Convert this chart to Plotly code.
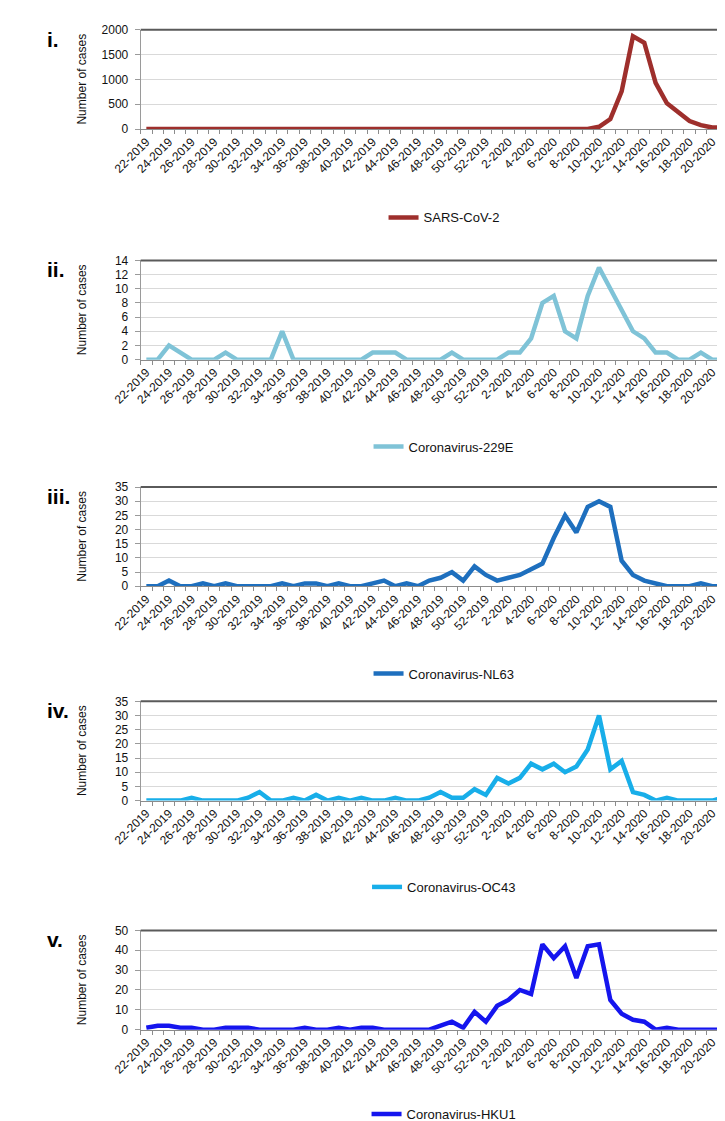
import plotly.graph_objects as go

W, H = 725, 1121

weeks = [
    "22-2019", "23-2019", "24-2019", "25-2019", "26-2019", "27-2019", "28-2019",
    "29-2019", "30-2019", "31-2019", "32-2019", "33-2019", "34-2019", "35-2019",
    "36-2019", "37-2019", "38-2019", "39-2019", "40-2019", "41-2019", "42-2019",
    "43-2019", "44-2019", "45-2019", "46-2019", "47-2019", "48-2019", "49-2019",
    "50-2019", "51-2019", "52-2019", "1-2020", "2-2020", "3-2020", "4-2020",
    "5-2020", "6-2020", "7-2020", "8-2020", "9-2020", "10-2020", "11-2020",
    "12-2020", "13-2020", "14-2020", "15-2020", "16-2020", "17-2020", "18-2020",
    "19-2020", "20-2020", "21-2020",
]

sars_cov_2 = [0, 0, 0, 0, 0, 0, 0, 0, 0, 0,
              0, 0, 0, 0, 0, 0, 0, 0, 0, 0,
              0, 0, 0, 0, 0, 0, 0, 0, 0, 0,
              0, 0, 0, 0, 0, 0, 0, 0, 0, 3,
              45, 200, 760, 1870, 1740, 930, 520, 350, 160, 80,
              30, 30]

cov_229e = [0, 0, 2, 1, 0, 0, 0, 1, 0, 0,
            0, 0, 4, 0, 0, 0, 0, 0, 0, 0,
            1, 1, 1, 0, 0, 0, 0, 1, 0, 0,
            0, 0, 1, 1, 3, 8, 9, 4, 3, 9,
            13, 10, 7, 4, 3, 1, 1, 0, 0, 1,
            0, 0]

cov_nl63 = [0, 0, 2, 0, 0, 1, 0, 1, 0, 0,
            0, 0, 1, 0, 1, 1, 0, 1, 0, 0,
            1, 2, 0, 1, 0, 2, 3, 5, 2, 7,
            4, 2, 3, 4, 6, 8, 17, 25, 19, 28,
            30, 28, 9, 4, 2, 1, 0, 0, 0, 1,
            0, 0]

cov_oc43 = [0, 0, 0, 0, 1, 0, 0, 0, 0, 1,
            3, 0, 0, 1, 0, 2, 0, 1, 0, 1,
            0, 0, 1, 0, 0, 1, 3, 1, 1, 4,
            2, 8, 6, 8, 13, 11, 13, 10, 12, 18,
            30, 11, 14, 3, 2, 0, 1, 0, 0, 0,
            0, 1]

cov_hku1 = [1, 2, 2, 1, 1, 0, 0, 1, 1, 1,
            0, 0, 0, 0, 1, 0, 0, 1, 0, 1,
            1, 0, 0, 0, 0, 0, 2, 4, 1, 9,
            4, 12, 15, 20, 18, 43, 36, 42, 26, 42,
            43, 15, 8, 5, 4, 0, 1, 0, 0, 0,
            0, 0]

panels = [
    # label, name, values, colour, ymax, dtick, plot top px, legend y px
    ("i.", "SARS-CoV-2", sars_cov_2, "#9e2f2c", 2000, 500, 15, 205),
    ("ii.", "Coronavirus-229E", cov_229e, "#7fc3d7", 14, 2, 248.5, 437),
    ("iii.", "Coronavirus-NL63", cov_nl63, "#1e6fbe", 35, 5, 478, 667),
    ("iv.", "Coronavirus-OC43", cov_oc43, "#18aee9", 35, 5, 695, 883),
    ("v.", "Coronavirus-HKU1", cov_hku1, "#1515ee", 50, 10, 927, 1113),
]

FONT = "Liberation Sans, Arial, sans-serif"
idx = list(range(len(weeks)))
x0, x1 = 108 / W, 721 / W
plot_h = 100.5

fig = go.Figure()
annotations = []
shapes = []

for k, (label, name, vals, color, ymax, dtick, top, leg_y) in enumerate(panels):
    ax = "" if k == 0 else str(k + 1)
    y_hi = 1 - top / H
    y_lo = 1 - (top + plot_h) / H

    fig.add_trace(go.Scatter(
        x=idx, y=vals, mode="lines", name=name,
        line=dict(color=color, width=4.5),
        xaxis="x" + ax, yaxis="y" + ax, legend="legend" + ax,
    ))

    fig.update_layout(**{
        "xaxis" + ax: dict(
            domain=[x0, x1], anchor="y" + ax, range=[-0.5, len(weeks) - 0.5],
            tickmode="array", tickvals=idx[::2], ticktext=weeks[::2],
            tickangle=-45, ticks="", showgrid=False, zeroline=False,
            showline=True, linecolor="#8c8c8c", linewidth=1,
            tickfont=dict(family=FONT, size=12, color="#111111"),
            minor=dict(tickmode="array", tickvals=[i - 0.5 for i in range(len(weeks) + 1)],
                       ticks="outside", ticklen=4, tickcolor="#8c8c8c", showgrid=False),
        ),
        "yaxis" + ax: dict(
            domain=[y_lo, y_hi], anchor="x" + ax, range=[0, ymax], dtick=dtick,
            showgrid=True, gridcolor="#d9d9d9", gridwidth=1, zeroline=False,
            showline=True, linecolor="#9a9a9a", linewidth=1,
            ticks="outside", ticklen=5, tickcolor="#9a9a9a",
            ticklabelstandoff=4,
            tickfont=dict(family=FONT, size=12, color="#111111"),
        ),
        "legend" + ax: dict(
            x=424 / W, xanchor="center", y=1 - leg_y / H, yanchor="middle",
            orientation="h", bgcolor="rgba(0,0,0,0)",
            font=dict(family=FONT, size=13, color="#111111"),
        ),
    })

    # plot area frame: darker top and right edges
    shapes.append(dict(type="line", xref=f"x{ax} domain", yref=f"y{ax} domain",
                       x0=0, x1=1, y0=1, y1=1, line=dict(color="#5a5a5a", width=2)))
    shapes.append(dict(type="line", xref=f"x{ax} domain", yref=f"y{ax} domain",
                       x0=1, x1=1, y0=0, y1=1, line=dict(color="#5a5a5a", width=2)))

    annotations.append(dict(
        text=f"<b>{label}</b>", x=8 / W, y=1 - (top - 4) / H, xref="paper", yref="paper",
        xanchor="left", yanchor="top", showarrow=False,
        font=dict(family=FONT, size=21, color="#000000"),
    ))
    annotations.append(dict(
        text="Number of cases", x=47 / W, y=(y_lo + y_hi) / 2, xref="paper", yref="paper",
        xanchor="center", yanchor="middle", textangle=-90, showarrow=False,
        font=dict(family=FONT, size=12, color="#111111"),
    ))

fig.update_layout(
    width=W, height=H,
    margin=dict(l=0, r=0, t=0, b=0),
    paper_bgcolor="white", plot_bgcolor="white",
    annotations=annotations, shapes=shapes,
    showlegend=True,
)

fig.write_html("out.html")
